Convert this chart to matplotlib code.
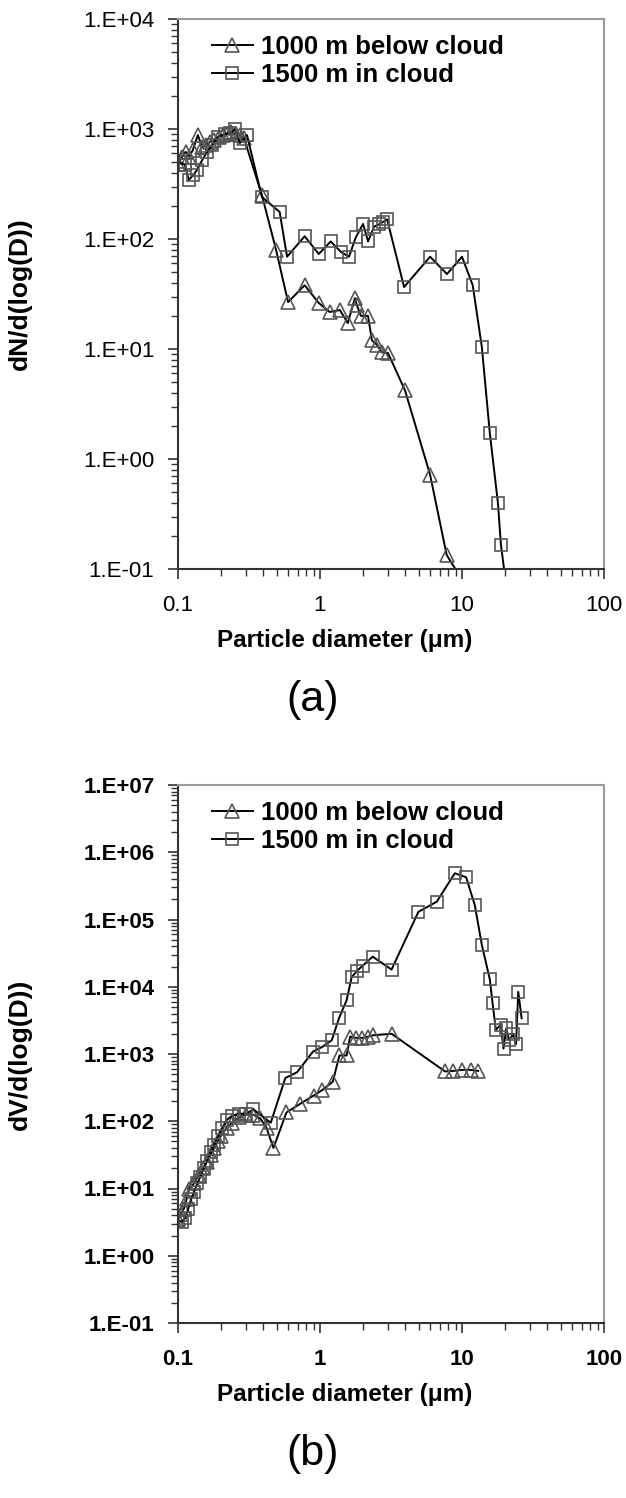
import numpy as np
import matplotlib
matplotlib.use("Agg")
import matplotlib.pyplot as plt
from matplotlib.ticker import LogLocator, FuncFormatter, NullFormatter

plt.rcParams['font.family'] = ['Liberation Sans', 'DejaVu Sans']

# ---- data, panel (a): number size distribution ----
x_a_below = [0.100, 0.107, 0.113, 0.120, 0.127, 0.138, 0.148, 0.158, 0.168, 0.180,
             0.193, 0.207, 0.222, 0.238, 0.255, 0.273, 0.292, 0.390, 0.490, 0.596,
             0.780, 0.980, 1.17, 1.38, 1.57, 1.76, 1.82, 1.94, 2.18, 2.32,
             2.52, 2.73, 3.01, 3.97, 5.96, 7.80, 10.0]
y_a_below = [480, 560, 620, 560, 640, 880, 680, 720, 760, 800,
             840, 880, 900, 930, 900, 880, 820, 250, 80, 26.7,
             38, 26.2, 21.7, 22.6, 17.2, 29, 25, 20, 20, 12,
             10.9, 9.3, 9.2, 4.2, 0.72, 0.134, 0.08]

x_a_cloud = [0.103, 0.112, 0.119, 0.128, 0.136, 0.148, 0.160, 0.174, 0.191, 0.214,
             0.232, 0.252, 0.273, 0.306, 0.390, 0.520, 0.586, 0.780, 0.980, 1.19,
             1.41, 1.60, 1.79, 2.01, 2.18, 2.40, 2.60, 2.78, 2.97, 3.91,
             5.96, 7.84, 10.0, 11.9, 13.8, 15.7, 17.9, 18.8, 20.5]
y_a_cloud = [500, 471, 344, 380, 424, 522, 617, 716, 846, 901,
             920, 1000, 746, 880, 241, 176, 69, 106, 73, 95,
             76, 69, 104, 137, 95, 129, 136, 143, 151, 36.6,
             69, 48, 69, 38, 10.4, 1.72, 0.40, 0.166, 0.07]

# ---- data, panel (b): volume size distribution ----
x_b_below = [0.100, 0.105, 0.110, 0.115, 0.120, 0.130, 0.140, 0.150, 0.160, 0.170,
             0.180, 0.190, 0.200, 0.220, 0.240, 0.270, 0.300, 0.340, 0.380, 0.420,
             0.470, 0.580, 0.720, 0.900, 1.04, 1.23, 1.37, 1.54, 1.63, 1.79,
             1.99, 2.18, 2.37, 3.19, 7.60, 8.70, 10.0, 11.5, 13.0]
y_b_below = [3.5, 4.2, 5.0, 7.0, 10, 12, 16, 20, 25, 32,
             40, 50, 60, 80, 95, 115, 125, 125, 110, 80,
             40, 135, 180, 240, 292, 387, 950, 950, 1810, 1740,
             1740, 1810, 1900, 2000, 550, 560, 580, 580, 560]

x_b_cloud = [0.100, 0.106, 0.112, 0.118, 0.124, 0.130, 0.137, 0.144, 0.152, 0.160,
             0.170, 0.180, 0.192, 0.205, 0.220, 0.240, 0.270, 0.300, 0.340, 0.450,
             0.570, 0.690, 0.890, 1.04, 1.21, 1.36, 1.54, 1.67, 1.83, 2.00,
             2.35, 3.19, 4.93, 6.64, 8.90, 10.7, 12.3, 13.8, 15.7, 16.4,
             17.3, 18.7, 19.6, 20.5, 21.5, 23.0, 24.0, 24.9, 26.3]
y_b_cloud = [3.3, 3.2, 3.6, 5.0, 7.0, 9.0, 12, 15, 20, 26,
             35, 45, 60, 80, 105, 120, 130, 128, 150, 95,
             440, 535, 1080, 1280, 1600, 3400, 6300, 13800, 17400, 20600,
             28000, 18000, 130000, 184000, 487000, 424000, 164000, 41800, 12900, 5800,
             2300, 2700, 1200, 2400, 1600, 2000, 1400, 8400, 3400]

labels = ['1000 m below cloud', '1500 m in cloud']


def style_axis(ax, ymin, ymax, bold_ticks):
    ax.set_xscale('log')
    ax.set_yscale('log')
    ax.set_xlim(0.1, 100)
    ax.set_ylim(ymin, ymax)
    ax.xaxis.set_major_locator(LogLocator(base=10, numticks=10))
    ax.xaxis.set_minor_locator(LogLocator(base=10, subs=range(2, 10), numticks=20))
    ax.yaxis.set_major_locator(LogLocator(base=10, numticks=12))
    ax.yaxis.set_minor_locator(LogLocator(base=10, subs=range(2, 10), numticks=20))
    ax.xaxis.set_major_formatter(FuncFormatter(lambda v, p: '%g' % v))
    ax.xaxis.set_minor_formatter(NullFormatter())
    ax.yaxis.set_major_formatter(
        FuncFormatter(lambda v, p: '1.E%+03d' % int(round(np.log10(v)))))
    ax.yaxis.set_minor_formatter(NullFormatter())
    ax.tick_params(which='major', direction='out', length=7, width=1.2,
                   labelsize=16, pad=10, color='#333333')
    ax.tick_params(which='minor', direction='out', length=5, width=1.0,
                   color='#333333')
    ax.tick_params(axis='x', which='major', pad=12)
    for lab in ax.get_xticklabels() + ax.get_yticklabels():
        lab.set_fontweight('bold' if bold_ticks else 'normal')
    for s in ['left', 'bottom']:
        ax.spines[s].set_color('#333333')
        ax.spines[s].set_linewidth(1.5)
    for s in ['top', 'right']:
        ax.spines[s].set_color('#9a9a9a')
        ax.spines[s].set_linewidth(1.5)


def draw(ax, xb, yb, xc, yc):
    ax.plot(xb, yb, color='black', lw=1.4, marker='^', ms=10, mfc='none',
            mec='#555555', mew=1.2, label=labels[0])
    ax.plot(xc, yc, color='black', lw=1.4, marker='s', ms=8.5, mfc='none',
            mec='#555555', mew=1.2, label=labels[1])
    ax.legend(loc='upper left', bbox_to_anchor=(0.055, 0.99), frameon=False,
              prop={'size': 18.5, 'weight': 'bold'}, handlelength=1.6,
              handletextpad=0.3, labelspacing=0.15, borderaxespad=0)


fig = plt.figure(figsize=(6.26, 14.98), dpi=100)
W, H = 626.0, 1498.0

ax1 = fig.add_axes([178 / W, 1 - 569 / H, 426 / W, 550 / H])
draw(ax1, x_a_below, y_a_below, x_a_cloud, y_a_cloud)
style_axis(ax1, 0.1, 1e4, bold_ticks=False)
ax1.set_ylabel('dN/d(log(D))', fontsize=19, fontweight='bold')
ax1.yaxis.set_label_coords((32 - 178) / 426, 0.5)

ax2 = fig.add_axes([178 / W, 1 - 1323 / H, 426 / W, 538 / H])
draw(ax2, x_b_below, y_b_below, x_b_cloud, y_b_cloud)
style_axis(ax2, 0.1, 1e7, bold_ticks=True)
ax2.set_ylabel('dV/d(log(D))', fontsize=19, fontweight='bold')
ax2.yaxis.set_label_coords((32 - 178) / 426, 0.5)

fig.text(345 / W, 1 - 640 / H, 'Particle diameter (\u03bcm)', fontsize=17.5,
         fontweight='bold', ha='center', va='center')
fig.text(313 / W, 1 - 700 / H, '(a)', fontsize=31, ha='center', va='center')
fig.text(345 / W, 1 - 1394 / H, 'Particle diameter (\u03bcm)', fontsize=17.5,
         fontweight='bold', ha='center', va='center')
fig.text(313 / W, 1 - 1454 / H, '(b)', fontsize=31, ha='center', va='center')

fig.savefig('out.png', dpi=100)
